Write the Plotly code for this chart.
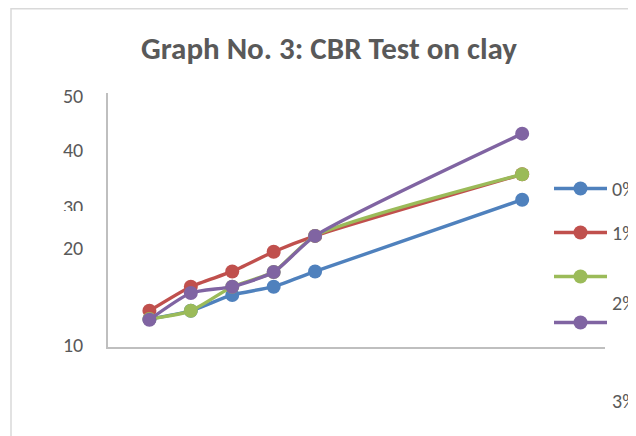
import plotly.graph_objects as go

# ---- data ----
penetration = [0.5, 1.0, 1.5, 2.0, 2.5, 5.0]
series_names = ["0%", "1%", "2%", "3%"]
load_0 = [14.4, 15.7, 18.2, 19.5, 21.9, 33.2]
load_1 = [15.7, 19.5, 21.9, 25.0, 27.5, 37.2]
load_2 = [14.4, 15.7, 19.5, 21.8, 27.5, 37.2]
load_3 = [14.3, 18.5, 19.5, 21.8, 27.5, 43.6]
y_tick_vals = [10.3, 25.6, 32.0, 41.1, 49.5]
y_tick_text = ["10", "20", "30", "40", "50"]

colors = ["#4F81BD", "#C0504D", "#9BBB59", "#8064A2"]
# legend label offsets (as in the reference, labels drift below their symbols)
label_prefix = ["", "", "<br>", "<br><br><br>"]
legend_ids = ["legend", "legend2", "legend3", "legend4"]
FONT = "Calibri, Carlito, Lato, sans-serif"

# figure is displayed with an 8px page margin; plot area in figure pixels
L, R, T, B = 100, 597, 85, 339
W, H = R - L, B - T


def px(x):
    return (x - L) / W


def py(y):
    return (B - y) / H


fig = go.Figure()
for i, ys in enumerate([load_0, load_1, load_2, load_3]):
    fig.add_trace(go.Scatter(
        x=penetration, y=ys, mode="lines+markers",
        name=label_prefix[i] + series_names[i], legend=legend_ids[i],
        line=dict(color=colors[i], width=3.4, shape="spline", smoothing=0.6),
        marker=dict(color=colors[i], size=14),
    ))

legend_tops = [161, 205, 249, 295]
legends = {}
for i, lid in enumerate(legend_ids):
    legends[lid] = dict(x=px(541), xanchor="left", y=py(legend_tops[i]), yanchor="top",
                        itemwidth=53, valign="top",
                        font=dict(family=FONT, size=20, color="#595959"),
                        bgcolor="rgba(0,0,0,0)")

fig.update_layout(
    width=636, height=436,
    margin=dict(l=L, r=636 - R, t=T, b=436 - B, autoexpand=False),
    paper_bgcolor="white", plot_bgcolor="white",
    font=dict(family=FONT, color="#595959", size=20),
    title=dict(text="<b>Graph No. 3: CBR Test on clay</b>", x=321 / 636, xanchor="center",
               xref="container", y=1 - 40 / 436, yanchor="middle", yref="container",
               font=dict(family=FONT, size=31, color="#595959")),
    xaxis=dict(range=[0, 6], showgrid=False, zeroline=False, showticklabels=False,
               showline=True, linecolor="#bfbfbf", linewidth=1.5, ticks=""),
    yaxis=dict(range=[10, 50], showgrid=False, zeroline=False, tickvals=y_tick_vals,
               ticktext=y_tick_text, showline=True, linecolor="#bfbfbf", linewidth=1.5,
               ticks="outside", ticklen=19, tickcolor="rgba(0,0,0,0)",
               tickfont=dict(family=FONT, size=20, color="#595959")),
    showlegend=True,
    shapes=[
        dict(type="rect", xref="paper", yref="paper",
             x0=px(3), x1=px(700), y0=py(500), y1=py(0.75),
             line=dict(color="#d9d9d9", width=1.5), fillcolor="rgba(0,0,0,0)", layer="below"),
        dict(type="rect", xref="paper", yref="paper",
             x0=px(40), x1=px(92), y0=py(228), y1=py(203),
             line=dict(width=0), fillcolor="white", layer="above"),
    ],
    **legends,
)

fig.write_html("out.html", config={"displayModeBar": False})
